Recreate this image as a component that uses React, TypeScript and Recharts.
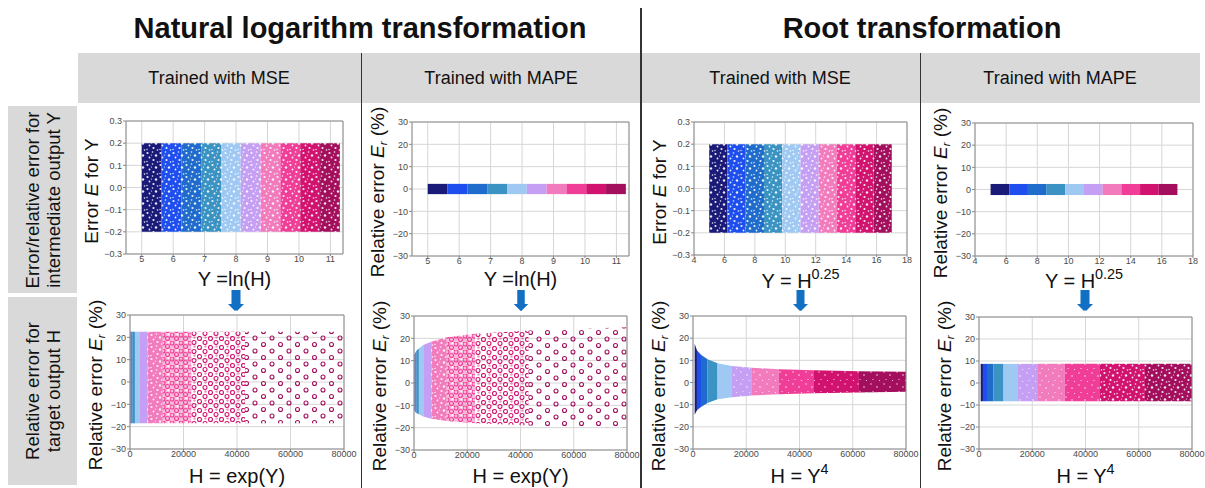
import { ComposedChart, Area, XAxis, YAxis, CartesianGrid, ReferenceArea } from "recharts";
import type { ReactNode } from "react";

const FONT = 'Arial, "Liberation Sans", Helvetica, sans-serif';

// ten colour groups of the samples (dark blue -> dark magenta)
const groupColors = ["#1a1a78", "#1e4fee", "#1f6ccc", "#3a93c2", "#9fc9f2", "#c59ff4", "#f27bbd", "#f03d97", "#d2126f", "#a30f5c"];

// group edges on each x axis
const lnEdges = [5.0, 5.63, 6.26, 6.89, 7.52, 8.15, 8.78, 9.41, 10.04, 10.67, 11.3];
const rootEdges = [5.0, 6.2, 7.4, 8.6, 9.8, 11.0, 12.2, 13.4, 14.6, 15.8, 17.0];
const lnEdgesH = [150, 280, 520, 980, 1840, 3460, 6500, 12200, 22900, 43000, 80000];
const rootEdgesH = [625, 1480, 3000, 5470, 9220, 14640, 22150, 32240, 45440, 62320, 80000];

// upper / lower edge of the point cloud at each group edge
const lnMseYHigh = [0.2, 0.2, 0.2, 0.2, 0.2, 0.2, 0.2, 0.2, 0.2, 0.2, 0.2];
const lnMseYLow = [-0.2, -0.2, -0.2, -0.2, -0.2, -0.2, -0.2, -0.2, -0.2, -0.2, -0.2];
const lnMapeYHigh = [2.3, 2.3, 2.3, 2.3, 2.3, 2.3, 2.3, 2.3, 2.3, 2.3, 2.3];
const lnMapeYLow = [-2.3, -2.3, -2.3, -2.3, -2.3, -2.3, -2.3, -2.3, -2.3, -2.3, -2.3];
const rootMseYHigh = [0.2, 0.2, 0.2, 0.2, 0.2, 0.2, 0.2, 0.2, 0.2, 0.2, 0.2];
const rootMseYLow = [-0.2, -0.2, -0.2, -0.2, -0.2, -0.2, -0.2, -0.2, -0.2, -0.2, -0.2];
const rootMapeYHigh = [2.5, 2.5, 2.5, 2.5, 2.5, 2.5, 2.5, 2.5, 2.5, 2.5, 2.5];
const rootMapeYLow = [-2.5, -2.5, -2.5, -2.5, -2.5, -2.5, -2.5, -2.5, -2.5, -2.5, -2.5];

const lnMseHHigh = [22.5, 22.5, 22.5, 22.5, 22.5, 22.5, 22.5, 22.5, 22.5, 22.5, 22.5];
const lnMseHLow = [-18.5, -18.5, -18.5, -18.5, -18.5, -18.5, -18.5, -18.5, -18.5, -18.5, -18.5];
const lnMapeHHigh = [12.5, 13, 13.5, 14.5, 15.5, 17, 18.5, 20.5, 22, 23.5, 25];
const lnMapeHLow = [-12, -12.5, -13, -13.5, -14, -15, -16, -17, -18, -19, -20];
const rootMseHHigh = [17.5, 14.5, 12.5, 10.5, 8.7, 7.5, 6.6, 6.0, 5.5, 5.1, 4.8];
const rootMseHLow = [-14.5, -12.5, -11, -9.2, -7.6, -6.6, -5.9, -5.3, -4.9, -4.5, -4.2];
const rootMapeHHigh = [8.7, 8.7, 8.7, 8.7, 8.7, 8.7, 8.7, 8.7, 8.7, 8.7, 8.7];
const rootMapeHLow = [-8.3, -8.3, -8.3, -8.3, -8.3, -8.3, -8.3, -8.3, -8.3, -8.3, -8.3];

const lnTicks = [5, 6, 7, 8, 9, 10, 11];
const rootTicks = [4, 6, 8, 10, 12, 14, 16, 18];
const hTicks = [0, 20000, 40000, 60000, 80000];
const errTicks = [-0.3, -0.2, -0.1, 0, 0.1, 0.2, 0.3];
const pctTicks = [-30, -20, -10, 0, 10, 20, 30];

// how the point cloud looks in each group (point density)
const texDense = ["dense", "dense", "dense", "dense", "dense", "dense", "dense", "dense", "dense", "dense"];
const texSolid = ["solid", "solid", "solid", "solid", "solid", "solid", "solid", "solid", "solid", "solid"];
const texLnH = ["solid", "solid", "solid", "solid", "solid", "solid", "dense", "mid", "loose", "sparse"];
const texRootMseH = ["solid", "solid", "solid", "solid", "solid", "fine", "fine", "fine", "fine", "fine"];
const texRootMapeH = ["solid", "solid", "solid", "solid", "solid", "fine", "fine", "fine", "dense", "dense"];

const minus = (s: string) => s.replace("-", "\u2212");
const fmtErr = (v: number) => minus(v.toFixed(1));
const fmtInt = (v: number) => minus(String(v));

const supStyle = { fontSize: "0.72em", verticalAlign: "baseline", position: "relative" as const, top: "-0.62em" };

const errLabel = (
  <>
    Error <i>E</i> for Y
  </>
);
const relLabel = (
  <>
    Relative error <i>E</i>
    <span style={{ fontSize: "0.6em", fontStyle: "italic", position: "relative", top: "0.3em" }}>r</span> (%)
  </>
);

type Cfg = {
  left: number;
  top: number;
  width: number;
  height: number;
  edges: number[];
  high: number[];
  low: number[];
  tex: string[];
  xDomain: [number, number];
  xTicks: number[];
  yDomain: [number, number];
  yTicks: number[];
  yFmt: (v: number) => string;
  yLabel: ReactNode;
  xLabel: ReactNode;
  xLabelY: number;
};

const panels: Cfg[] = [
  { left: 126, top: 121, width: 217, height: 133, edges: lnEdges, high: lnMseYHigh, low: lnMseYLow, tex: texDense, xDomain: [4.5, 11.4], xTicks: lnTicks, yDomain: [-0.3, 0.3], yTicks: errTicks, yFmt: fmtErr, yLabel: errLabel, xLabel: <>Y =ln(H)</>, xLabelY: 279 },
  { left: 412, top: 122, width: 217, height: 134, edges: lnEdges, high: lnMapeYHigh, low: lnMapeYLow, tex: texSolid, xDomain: [4.5, 11.4], xTicks: lnTicks, yDomain: [-30, 30], yTicks: pctTicks, yFmt: fmtInt, yLabel: relLabel, xLabel: <>Y =ln(H)</>, xLabelY: 279 },
  { left: 694, top: 122, width: 213, height: 133, edges: rootEdges, high: rootMseYHigh, low: rootMseYLow, tex: texDense, xDomain: [4, 18], xTicks: rootTicks, yDomain: [-0.3, 0.3], yTicks: errTicks, yFmt: fmtErr, yLabel: errLabel, xLabel: <>Y = H<span style={supStyle}>0.25</span></>, xLabelY: 281 },
  { left: 975, top: 123, width: 218, height: 133, edges: rootEdges, high: rootMapeYHigh, low: rootMapeYLow, tex: texSolid, xDomain: [4, 18], xTicks: rootTicks, yDomain: [-30, 30], yTicks: pctTicks, yFmt: fmtInt, yLabel: relLabel, xLabel: <>Y = H<span style={supStyle}>0.25</span></>, xLabelY: 281 },
  { left: 130, top: 315, width: 214, height: 134, edges: lnEdgesH, high: lnMseHHigh, low: lnMseHLow, tex: texLnH, xDomain: [0, 80000], xTicks: hTicks, yDomain: [-30, 30], yTicks: pctTicks, yFmt: fmtInt, yLabel: relLabel, xLabel: <>H = exp(Y)</>, xLabelY: 476 },
  { left: 414, top: 316, width: 213, height: 134, edges: lnEdgesH, high: lnMapeHHigh, low: lnMapeHLow, tex: texLnH, xDomain: [0, 80000], xTicks: hTicks, yDomain: [-30, 30], yTicks: pctTicks, yFmt: fmtInt, yLabel: relLabel, xLabel: <>H = exp(Y)</>, xLabelY: 476 },
  { left: 693, top: 316, width: 213, height: 133, edges: rootEdgesH, high: rootMseHHigh, low: rootMseHLow, tex: texRootMseH, xDomain: [0, 80000], xTicks: hTicks, yDomain: [-30, 30], yTicks: pctTicks, yFmt: fmtInt, yLabel: relLabel, xLabel: <>H = Y<span style={supStyle}>4</span></>, xLabelY: 476 },
  { left: 979, top: 317, width: 213, height: 132, edges: rootEdgesH, high: rootMapeHHigh, low: rootMapeHLow, tex: texRootMapeH, xDomain: [0, 80000], xTicks: hTicks, yDomain: [-30, 30], yTicks: pctTicks, yFmt: fmtInt, yLabel: relLabel, xLabel: <>H = Y<span style={supStyle}>4</span></>, xLabelY: 476 },
];

const columns = [
  { x: 219, text: "Trained with MSE" },
  { x: 501, text: "Trained with MAPE" },
  { x: 780, text: "Trained with MSE" },
  { x: 1060, text: "Trained with MAPE" },
];

// white gaps between the markers of a dense cloud
const denseHoles: [number, number, number][] = [
  [1.5, 2, 1.1], [6.5, 1, 0.8], [10, 4.5, 1.2], [3.5, 6.5, 0.9], [7.5, 9, 1.1], [1, 10.5, 0.7], [11.5, 11, 0.8], [5.5, 4, 0.6],
];
const fineHoles: [number, number, number][] = [
  [2, 2, 0.7], [8, 5, 0.8], [4, 9.5, 0.6], [10.5, 10.5, 0.6],
];

const Patterns = () => (
  <svg width={0} height={0} style={{ position: "absolute" }}>
    <defs>
      {groupColors.map((c, i) => (
        <g key={i}>
          <pattern id={`tex-dense-${i}`} width={13} height={12} patternUnits="userSpaceOnUse">
            <rect width={13} height={12} fill={c} />
            {denseHoles.map(([x, y, r], k) => (
              <circle key={k} cx={x} cy={y} r={r} fill="#fff" fillOpacity={0.9} />
            ))}
          </pattern>
          <pattern id={`tex-fine-${i}`} width={13} height={12} patternUnits="userSpaceOnUse">
            <rect width={13} height={12} fill={c} />
            {fineHoles.map(([x, y, r], k) => (
              <circle key={k} cx={x} cy={y} r={r} fill="#fff" fillOpacity={0.85} />
            ))}
          </pattern>
          <pattern id={`tex-mid-${i}`} width={9} height={8} patternUnits="userSpaceOnUse">
            <rect width={9} height={8} fill={c} fillOpacity={0.35} />
            <circle cx={2} cy={2} r={2} fill="none" stroke={c} strokeWidth={1.1} />
            <circle cx={6.5} cy={5.5} r={2} fill="none" stroke={c} strokeWidth={1.1} />
            <circle cx={7.5} cy={1.2} r={1} fill="#fff" />
          </pattern>
          <pattern id={`tex-loose-${i}`} width={11} height={9} patternUnits="userSpaceOnUse">
            <circle cx={2.5} cy={2.5} r={2} fill="none" stroke={c} strokeWidth={1.1} />
            <circle cx={8} cy={6.5} r={2} fill="none" stroke={c} strokeWidth={1.1} />
            <circle cx={8.5} cy={1.5} r={1.2} fill={c} fillOpacity={0.45} />
          </pattern>
          <pattern id={`tex-sparse-${i}`} width={17} height={13} patternUnits="userSpaceOnUse">
            <circle cx={4} cy={3} r={2} fill="none" stroke={c} strokeWidth={1.1} />
            <circle cx={12.5} cy={9.5} r={2} fill="none" stroke={c} strokeWidth={1.1} />
          </pattern>
        </g>
      ))}
    </defs>
  </svg>
);

const YW = 32;
const XH = 18;
const MT = 6;
const MR = 18;

function Panel({ cfg }: { cfg: Cfg }) {
  const groups = cfg.edges.slice(0, -1).map((_, i) => i);
  const data = cfg.edges.map((x, j) => {
    const row: Record<string, number | number[]> = { x };
    groups.forEach((i) => {
      if (j === i || j === i + 1) row["g" + i] = [cfg.low[j], cfg.high[j]];
    });
    return row;
  });
  const tick = { fontSize: 9, fill: "#4a4a4a", fontFamily: FONT };
  return (
    <>
      <div style={{ position: "absolute", left: cfg.left - YW, top: cfg.top - MT }}>
        <ComposedChart
          width={cfg.width + YW + MR}
          height={cfg.height + MT + XH}
          data={data}
          margin={{ top: MT, right: MR, left: 0, bottom: 0 }}
        >
          <CartesianGrid stroke="#d6d6d6" />
          <XAxis
            dataKey="x"
            type="number"
            domain={cfg.xDomain}
            ticks={cfg.xTicks}
            height={XH}
            tick={tick}
            tickSize={2}
            tickMargin={0}
            axisLine={false}
            tickLine={{ stroke: "#888" }}
            interval={0}
          />
          <YAxis
            type="number"
            domain={cfg.yDomain}
            ticks={cfg.yTicks}
            width={YW}
            tick={tick}
            tickSize={3}
            tickMargin={1}
            axisLine={false}
            tickLine={{ stroke: "#888" }}
            tickFormatter={cfg.yFmt}
            interval={0}
          />
          {groups.map((i) => (
            <Area
              key={i}
              type="linear"
              dataKey={"g" + i}
              stroke="none"
              fill={cfg.tex[i] === "solid" ? groupColors[i] : `url(#tex-${cfg.tex[i]}-${i})`}
              fillOpacity={1}
              dot={false}
              activeDot={false}
              isAnimationActive={false}
            />
          ))}
          <ReferenceArea
            x1={cfg.xDomain[0]}
            x2={cfg.xDomain[1]}
            y1={cfg.yDomain[0]}
            y2={cfg.yDomain[1]}
            fill="none"
            stroke="#8c8c8c"
            strokeWidth={1}
          />
        </ComposedChart>
      </div>
      <div
        style={{
          position: "absolute",
          left: cfg.left - 35,
          top: cfg.top + cfg.height / 2 + 3,
          transform: "translate(-50%, -50%) rotate(-90deg)",
          fontSize: 19,
          whiteSpace: "nowrap",
          lineHeight: 1,
        }}
      >
        {cfg.yLabel}
      </div>
      <div
        style={{
          position: "absolute",
          left: cfg.left + cfg.width / 2,
          top: cfg.xLabelY,
          transform: "translate(-50%, -50%)",
          fontSize: 20,
          whiteSpace: "nowrap",
          lineHeight: 1,
        }}
      >
        {cfg.xLabel}
      </div>
      <svg
        width={16}
        height={22}
        style={{ position: "absolute", left: cfg.left + cfg.width / 2 - 8, top: 290 }}
      >
        <polygon points="4.5,0 11.5,0 11.5,14 15,14 8,21 1,14 4.5,14" fill="#1170c4" />
      </svg>
    </>
  );
}

export default function App() {
  const rowBox = (top: number, height: number, lines: string[]) => (
    <div
      style={{
        position: "absolute",
        left: 8,
        top,
        width: 69,
        height,
        background: "#d9d9d9",
      }}
    >
      <div
        style={{
          position: "absolute",
          left: "50%",
          top: "50%",
          transform: "translate(-50%, -50%) rotate(-90deg)",
          fontSize: 18.5,
          lineHeight: "21px",
          textAlign: "center",
          whiteSpace: "nowrap",
        }}
      >
        {lines.map((l) => (
          <div key={l}>{l}</div>
        ))}
      </div>
    </div>
  );

  return (
    <div
      style={{
        position: "absolute",
        left: 0,
        top: 0,
        width: 1205,
        height: 488,
        background: "#fff",
        fontFamily: FONT,
        color: "#111",
        overflow: "hidden",
      }}
    >
      <Patterns />
      <div style={{ position: "absolute", left: 360, top: 28, transform: "translate(-50%, -50%)", fontSize: 29, fontWeight: "bold", whiteSpace: "nowrap" }}>
        Natural logarithm transformation
      </div>
      <div style={{ position: "absolute", left: 922, top: 28, transform: "translate(-50%, -50%)", fontSize: 29, fontWeight: "bold", whiteSpace: "nowrap" }}>
        Root transformation
      </div>

      <div style={{ position: "absolute", left: 78, top: 53, width: 1122, height: 50, background: "#d9d9d9" }} />
      {columns.map((c, i) => (
        <div key={i} style={{ position: "absolute", left: c.x, top: 78, transform: "translate(-50%, -50%)", fontSize: 18, whiteSpace: "nowrap" }}>
          {c.text}
        </div>
      ))}

      {rowBox(106, 187, ["Error/relative error for", "intermediate output Y"])}
      {rowBox(297, 188, ["Relative error for", "target output H"])}

      {panels.map((p, i) => (
        <Panel key={i} cfg={p} />
      ))}

      <div style={{ position: "absolute", left: 361, top: 53, width: 1, height: 435, background: "#333" }} />
      <div style={{ position: "absolute", left: 640, top: 8, width: 1.5, height: 480, background: "#333" }} />
      <div style={{ position: "absolute", left: 920, top: 53, width: 1, height: 435, background: "#333" }} />
    </div>
  );
}
